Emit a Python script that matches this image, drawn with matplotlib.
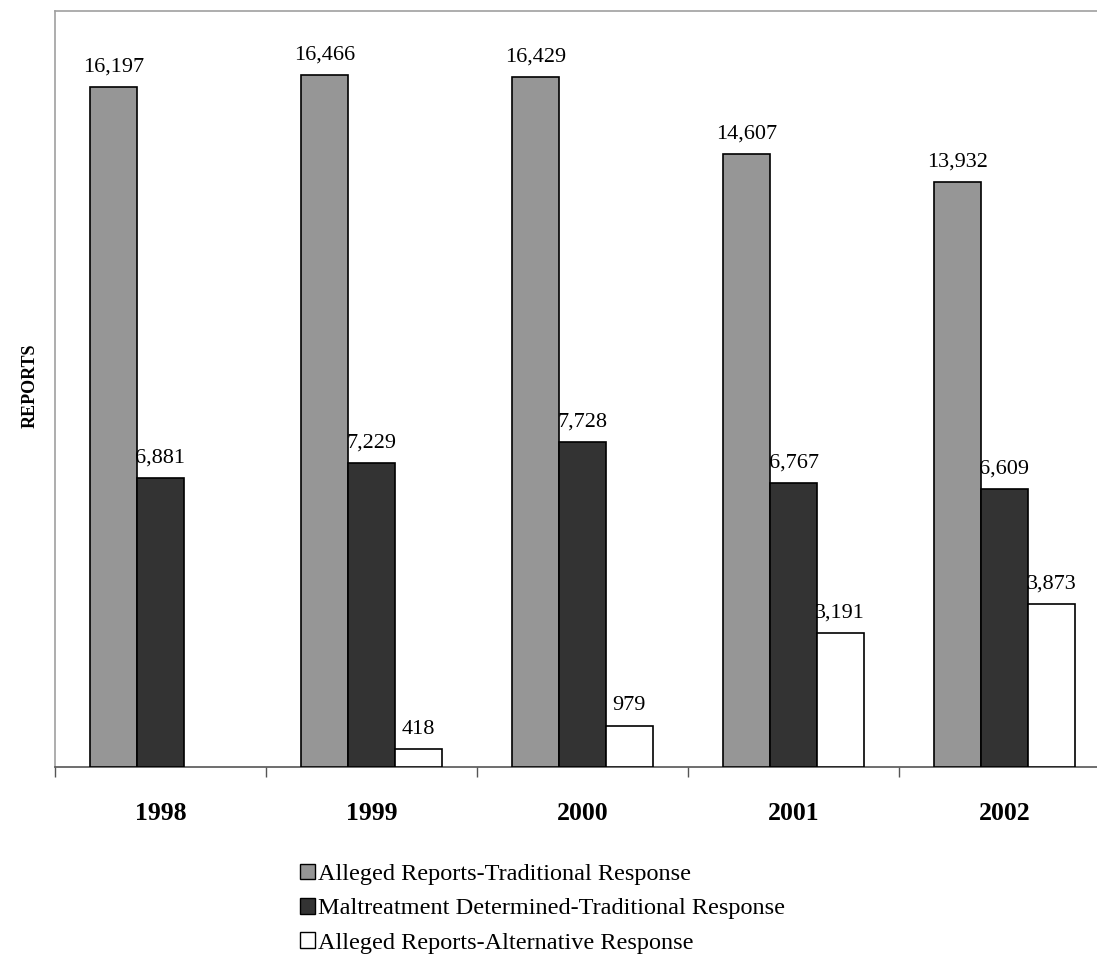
import matplotlib
matplotlib.use("Agg")
import matplotlib.pyplot as plt
import numpy as np
from matplotlib.patches import Patch

years = ["1998", "1999", "2000", "2001", "2002"]
alleged_trad = [16197, 16466, 16429, 14607, 13932]
maltreat_trad = [6881, 7229, 7728, 6767, 6609]
alleged_alt = [None, 418, 979, 3191, 3873]

series_names = ["Alleged Reports-Traditional Response",
                "Maltreatment Determined-Traditional Response",
                "Alleged Reports-Alternative Response"]
face_colors = ["#969696", "#333333", "#ffffff"]

plt.rcParams['font.family'] = ['Liberation Serif', 'DejaVu Serif']

fig = plt.figure(figsize=(10.97, 9.56), dpi=100)
ax = fig.add_axes([55/1097, 1-767/956, 1055/1097, 756/956])

x = np.arange(len(years))
w = 0.222
series = [alleged_trad, maltreat_trad, alleged_alt]
for i, (vals, fc) in enumerate(zip(series, face_colors)):
    xs = [xi + (i-1)*w for xi, v in zip(x, vals) if v is not None]
    vs = [v for v in vals if v is not None]
    bars = ax.bar(xs, vs, width=w, color=fc, edgecolor="black", linewidth=1.2, zorder=3)
    for b, v in zip(bars, vs):
        ax.annotate(f"{v:,}", (b.get_x()+b.get_width()/2, v), xytext=(0, 7.5),
                    textcoords="offset points", ha="center", va="bottom", fontsize=16)

ax.set_xlim(-0.5, len(years)-0.5)
ax.set_ylim(0, 18000)
ax.set_yticks([])
ax.set_xticks(x)
ax.set_xticklabels(years, fontsize=18.5, fontweight="bold")
ax.tick_params(axis="x", which="major", length=0, pad=25)
ax.set_xticks(np.arange(-0.5, len(years)+0.5, 1), minor=True)
ax.tick_params(axis="x", which="minor", length=7, width=1, color="#555555", direction="out")

for s in ["left", "top", "right"]:
    ax.spines[s].set_color("#a0a0a0")
    ax.spines[s].set_linewidth(1.2)
ax.spines["bottom"].set_color("#555555")
ax.spines["bottom"].set_linewidth(1.2)

fig.text(30/1097, 1-386/956, "REPORTS", rotation=90, ha="center", va="center",
         fontsize=13, fontweight="bold")

handles = [Patch(facecolor=fc, edgecolor="black", linewidth=1) for fc in face_colors]
fig.legend(handles, series_names, loc="upper left", bbox_to_anchor=(300/1097, 1-864/956),
           frameon=False, fontsize=17.5, handlelength=0.6, handleheight=0.6,
           handletextpad=0.15, labelspacing=0.53, borderpad=0, borderaxespad=0)

fig.savefig("out.png", dpi=100)
